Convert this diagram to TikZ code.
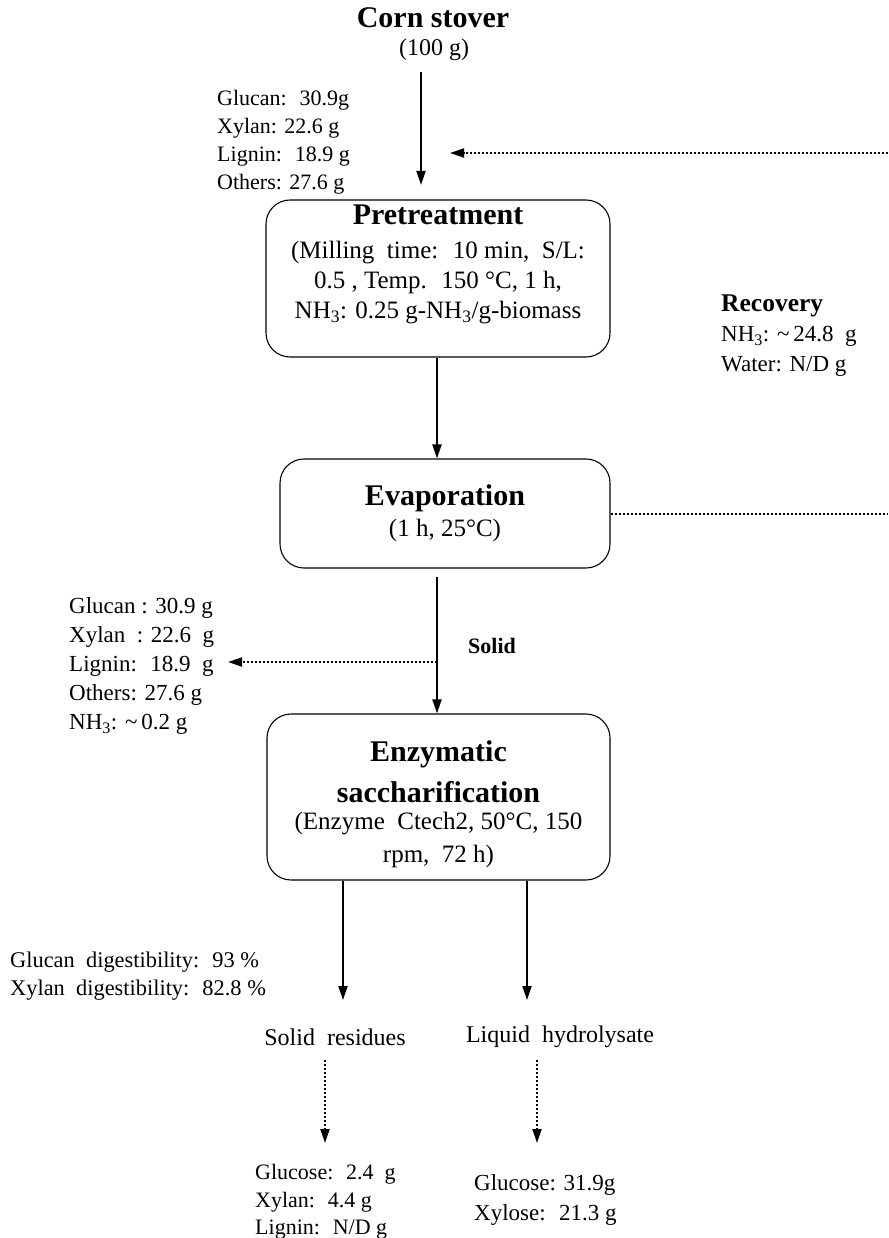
\documentclass[tikz,border=0pt]{standalone}
\usepackage{fontspec}
\setmainfont{Liberation Serif}
\usetikzlibrary{arrows.meta}
\newcommand{\stagetitle}[1]{{\bfseries\fontsize{30}{32}\selectfont #1}}

\begin{document}
\begin{tikzpicture}[x=1pt,y=-1pt,
      every node/.style={inner sep=0pt},
      stage/.style={draw,rounded corners=24pt,line width=1.1pt,align=center,
        font=\fontsize{25}{30}\selectfont},
      stream/.style={align=left,anchor=west,font=\fontsize{22}{28}\selectfont},
      label text/.style={font=\fontsize{24}{26}\selectfont},
      tip/.style={-{Triangle[length=14pt,width=9pt]}},
      flow/.style={line width=2pt,tip},
      recycle/.style={line width=2pt,dash pattern=on 2pt off 2pt}]
    \useasboundingbox (0,0) rectangle (888,1238);

    \node[font=\bfseries\fontsize{30}{32}\selectfont] (corn) at (433,18) {Corn stover};
    \node[label text] (amount) at (434,50) {(100 g)};
    \node[stream] (feed) at (217,142)
      {Glucan:~ 30.9g\\ Xylan: 22.6 g\\ Lignin:~ 18.9 g\\ Others: 27.6 g};

    \node[stage,minimum width=344pt,minimum height=157pt] (pre) at (438,278.5)
      {\stagetitle{Pretreatment}\\[4pt]
       (Milling~ time:~ 10 min,~ S/L:\\
       0.5 , Temp.~ 150 °C, 1 h,\\
       NH\textsubscript{3}: 0.25 g-NH\textsubscript{3}/g-biomass\\[3pt]\mbox{}};

    \node[stream,font=\fontsize{23}{30}\selectfont] (recov) at (721,336)
      {{\bfseries\fontsize{25.5}{30}\selectfont Recovery}\\
       NH\textsubscript{3}: \textasciitilde\,24.8~ g\\ Water: N/D g};

    \node[stage,minimum width=330pt,minimum height=109pt] (evap) at (445,513.5)
      {\stagetitle{Evaporation}\\[1pt] (1 h, 25°C)};

    \node[font=\bfseries\fontsize{22}{24}\selectfont] (solid) at (492,646) {Solid};
    \node[stream,font=\fontsize{23}{29}\selectfont] (solidcomp) at (69,666)
      {Glucan : 30.9 g\\ Xylan~ : 22.6~ g\\ Lignin:~ 18.9~ g\\ Others: 27.6 g\\
       NH\textsubscript{3}: \textasciitilde\,0.2 g};

    \node[stage,minimum width=343pt,minimum height=166pt] (enz) at (438.5,797)
      {\mbox{}\\[5pt]\stagetitle{Enzymatic}\\[11pt]\stagetitle{saccharification}\\[-3pt]
       (Enzyme~ Ctech2, 50°C, 150\\[3pt] rpm,~ 72 h)};

    \node[stream,font=\fontsize{22.4}{28}\selectfont] (digest) at (10,976)
      {Glucan~ digestibility:~ 93 \%\\ Xylan~ digestibility:~ 82.8 \%};
    \node[label text] (residue) at (335,1037) {Solid~ residues};
    \node[label text] (hydro) at (560,1037) {Liquid~ hydrolysate};
    \node[stream,font=\fontsize{22}{27.5}\selectfont] (rescomp) at (255,1202)
      {Glucose:~ 2.4~ g\\ Xylan:~ 4.4 g\\ Lignin:~ N/D g};
    \node[stream,font=\fontsize{23}{30}\selectfont] (hydcomp) at (474,1200)
      {Glucose: 31.9g\\ Xylose:~ 21.3 g};

    \coordinate (feedtop) at (421,72);
    \coordinate (feedend) at (421,185);
    \coordinate (recin) at (888,153);
    \coordinate (recend) at (450,153);
    \coordinate (spine) at (437,0);
    \coordinate (solidtop) at (437,577);
    \coordinate (split) at (437,662);
    \coordinate (splitend) at (228,662);
    \coordinate (resend) at (343,1000);
    \coordinate (hydend) at (527,1000);
    \coordinate (restop) at (325,1060);
    \coordinate (resdown) at (325,1143);
    \coordinate (hydtop) at (537,1060);
    \coordinate (hyddown) at (537,1143);

    \draw[flow] (feedtop) -- (feedend);
    \draw[recycle,tip] (recin) -- (recend);
    \draw[flow] (pre.south -| spine) -- (evap.north -| spine);
    \draw[recycle] (evap.east) -- (evap.east -| recin);
    \draw[flow] (solidtop) -- (solidtop |- enz.north);
    \draw[recycle,tip] (split) -- (splitend);
    \draw[flow] (enz.south -| resend) -- (resend);
    \draw[flow] (enz.south -| hydend) -- (hydend);
    \draw[recycle,tip] (restop) -- (resdown);
    \draw[recycle,tip] (hydtop) -- (hyddown);
  \end{tikzpicture}
\end{document}
